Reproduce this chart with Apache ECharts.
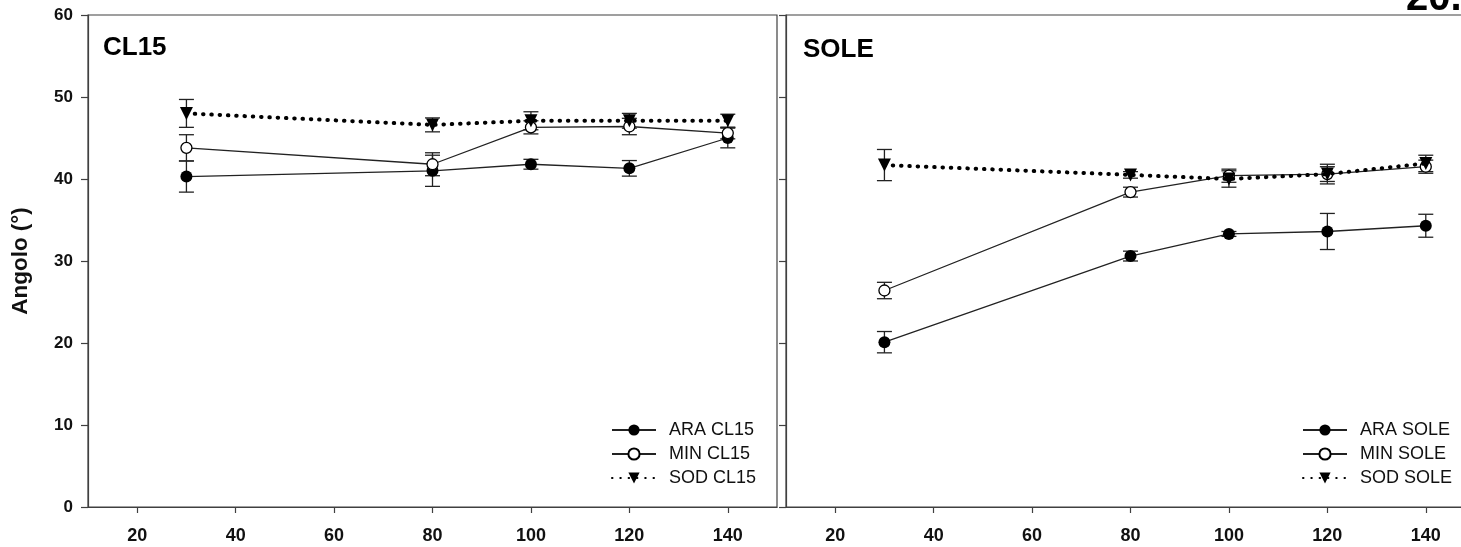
<!DOCTYPE html>
<html>
<head>
<meta charset="utf-8">
<script src="https://cdn.jsdelivr.net/npm/echarts@6/dist/echarts.min.js"></script>
<style>
  html, body { margin: 0; padding: 0; background: #fff; }
  #chart { width: 1461px; height: 547px; }
</style>
</head>
<body>
<div id="chart"></div>
<script>
// Sampling days (x) and tick values
const days = [30, 80, 100, 120, 140];
const xTicks = [20, 40, 60, 80, 100, 120, 140];
const yTicks = [0, 10, 20, 30, 40, 50, 60];

// CL15 panel: mean angle and error (±)
const araCL15 = [40.3, 41.0, 41.8, 41.3, 45.0];
const araCL15Err = [1.9, 1.9, 0.6, 0.95, 1.2];
const minCL15 = [43.8, 41.8, 46.3, 46.4, 45.6];
const minCL15Err = [1.6, 1.4, 0.8, 1.0, 0.7];
const sodCL15 = [48.0, 46.6, 47.1, 47.1, 47.1];
const sodCL15Err = [1.7, 0.85, 1.1, 0.9, 0.8];

// SOLE panel: mean angle and error (±)
const araSOLE = [20.1, 30.6, 33.3, 33.6, 34.3];
const araSOLEErr = [1.3, 0.6, 0.3, 2.2, 1.4];
const minSOLE = [26.4, 38.4, 40.4, 40.6, 41.5];
const minSOLEErr = [1.0, 0.6, 0.8, 0.9, 0.8];
const sodSOLE = [41.7, 40.5, 40.0, 40.6, 41.9];
const sodSOLEErr = [1.9, 0.4, 1.0, 1.2, 1.0];

const panelTitles = ['CL15', 'SOLE'];
const yTitle = 'Angolo (°)';
const cornerText = '20.';

const FONT = 'Liberation Sans, Arial, Helvetica, sans-serif';
const AXIS = '#404040';
const INK = '#222';

const pair = (vals) => days.map((d, i) => [d, vals[i]]);
const errData = (vals, err) => days.map((d, i) => [d, vals[i] - err[i], vals[i] + err[i]]);

function errorBars(idx, vals, err) {
  return {
    type: 'custom',
    xAxisIndex: idx,
    yAxisIndex: idx,
    silent: true,
    z: 1,
    encode: { x: 0, y: [1, 2] },
    data: errData(vals, err),
    renderItem(params, api) {
      const lo = api.coord([api.value(0), api.value(1)]);
      const hi = api.coord([api.value(0), api.value(2)]);
      const w = 7.5;
      const st = { stroke: INK, lineWidth: 1.3 };
      return {
        type: 'group',
        children: [
          { type: 'line', shape: { x1: lo[0], y1: lo[1], x2: hi[0], y2: hi[1] }, style: st },
          { type: 'line', shape: { x1: lo[0] - w, y1: lo[1], x2: lo[0] + w, y2: lo[1] }, style: st },
          { type: 'line', shape: { x1: hi[0] - w, y1: hi[1], x2: hi[0] + w, y2: hi[1] }, style: st }
        ]
      };
    }
  };
}

function araSeries(idx, name, vals) {
  return {
    type: 'line', name, xAxisIndex: idx, yAxisIndex: idx, z: 3,
    data: pair(vals),
    symbol: 'circle', symbolSize: 12,
    itemStyle: { color: '#000' },
    lineStyle: { color: INK, width: 1.3 }
  };
}
function minSeries(idx, name, vals) {
  return {
    type: 'line', name, xAxisIndex: idx, yAxisIndex: idx, z: 4,
    data: pair(vals),
    symbol: 'circle', symbolSize: 11,
    itemStyle: { color: '#fff', borderColor: '#000', borderWidth: 1.3 },
    lineStyle: { color: INK, width: 1.3 }
  };
}
function sodSeries(idx, name, vals) {
  return {
    type: 'line', name, xAxisIndex: idx, yAxisIndex: idx, z: 5,
    data: pair(vals),
    symbol: 'triangle', symbolRotate: 180, symbolSize: 13,
    itemStyle: { color: '#000' },
    lineStyle: { color: '#000', width: 4, type: [0.5, 7.8], cap: 'round' }
  };
}

function xAxis(idx) {
  return {
    type: 'value', gridIndex: idx, min: 10, max: 150,
    axisLine: { show: true, onZero: false, lineStyle: { color: AXIS, width: 1.2 } },
    axisTick: { show: true, customValues: xTicks, length: 6, lineStyle: { color: AXIS, width: 1.2 } },
    axisLabel: { customValues: xTicks, margin: 20, fontSize: 18, fontWeight: 'bold', color: '#111', fontFamily: FONT },
    splitLine: { show: false }
  };
}
function yAxis(idx) {
  return {
    type: 'value', gridIndex: idx, min: yTicks[0], max: yTicks[yTicks.length - 1], interval: 10,
    axisLine: { show: true, lineStyle: { color: AXIS, width: 1.2 } },
    axisTick: { show: true, length: 7, lineStyle: { color: AXIS, width: 1.2 } },
    axisLabel: { show: idx === 0, margin: 15, fontSize: 17, fontWeight: 'bold', color: '#111', fontFamily: FONT },
    splitLine: { show: false },
    name: idx === 0 ? yTitle : '',
    nameLocation: 'middle',
    nameGap: 56,
    nameTextStyle: { fontSize: 22.5, fontWeight: 'bold', color: '#111', fontFamily: FONT }
  };
}

function legend(left, names) {
  return {
    data: names,
    orient: 'vertical',
    left, top: 421, padding: 0,
    itemWidth: 44, itemHeight: 14, itemGap: 6,
    selectedMode: false,
    textStyle: { fontSize: 18, lineHeight: 18, color: '#111', fontFamily: FONT, padding: [0, 0, 0, 8] }
  };
}

function grid(left) {
  return {
    left, top: 15, width: 689, height: 492,
    outerBoundsMode: 'none', containLabel: false,
    show: true, borderColor: AXIS, borderWidth: 1.2, backgroundColor: 'transparent'
  };
}

const chart = echarts.init(document.getElementById('chart'), null, { renderer: 'canvas' });
chart.setOption({
  animation: false,
  backgroundColor: '#fff',
  title: [
    { text: panelTitles[0], left: 103, top: 35, padding: 0,
      textStyle: { fontSize: 26, fontWeight: 'bold', color: '#000', fontFamily: FONT } },
    { text: panelTitles[1], left: 803, top: 37, padding: 0,
      textStyle: { fontSize: 26, fontWeight: 'bold', color: '#000', fontFamily: FONT } }
  ],
  grid: [grid(88), grid(786)],
  xAxis: [xAxis(0), xAxis(1)],
  yAxis: [yAxis(0), yAxis(1)],
  legend: [
    legend(611, ['ARA CL15', 'MIN CL15', 'SOD CL15']),
    legend(1302, ['ARA SOLE', 'MIN SOLE', 'SOD SOLE'])
  ],
  graphic: [
    { type: 'text', left: 1406, top: -21, silent: true,
      style: { text: cornerText, font: 'bold 40px ' + FONT, fill: '#000' } }
  ],
  series: [
    errorBars(0, araCL15, araCL15Err),
    errorBars(0, minCL15, minCL15Err),
    errorBars(0, sodCL15, sodCL15Err),
    araSeries(0, 'ARA CL15', araCL15),
    minSeries(0, 'MIN CL15', minCL15),
    sodSeries(0, 'SOD CL15', sodCL15),
    errorBars(1, araSOLE, araSOLEErr),
    errorBars(1, minSOLE, minSOLEErr),
    errorBars(1, sodSOLE, sodSOLEErr),
    araSeries(1, 'ARA SOLE', araSOLE),
    minSeries(1, 'MIN SOLE', minSOLE),
    sodSeries(1, 'SOD SOLE', sodSOLE)
  ]
});
</script>
</body>
</html>
